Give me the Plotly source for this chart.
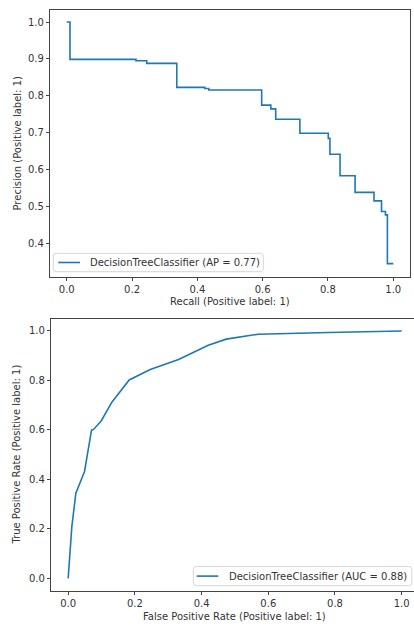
import plotly.graph_objects as go

# Precision-Recall curve (step, steps-post)
recall = [0.0, 0.010, 0.212, 0.245, 0.337, 0.423, 0.435, 0.597, 0.625, 0.640,
          0.714, 0.801, 0.806, 0.837, 0.883, 0.941, 0.964, 0.976, 0.982, 1.0]
precision = [1.0, 0.899, 0.895, 0.888, 0.823, 0.820, 0.816, 0.775, 0.765, 0.737,
             0.699, 0.685, 0.642, 0.584, 0.539, 0.516, 0.487, 0.478, 0.346, 0.346]

# ROC curve
fpr = [0.0, 0.011, 0.023, 0.049, 0.070, 0.076, 0.099, 0.131, 0.183, 0.246,
       0.331, 0.420, 0.474, 0.570, 0.780, 1.0]
tpr = [0.0, 0.209, 0.344, 0.432, 0.599, 0.602, 0.636, 0.712, 0.802, 0.844,
       0.885, 0.942, 0.967, 0.987, 0.994, 1.0]

pr_label = "DecisionTreeClassifier (AP = 0.77)"
roc_label = "DecisionTreeClassifier (AUC = 0.88)"

top_xticks = [0.0, 0.2, 0.4, 0.6, 0.8, 1.0]
top_yticks = [0.4, 0.5, 0.6, 0.7, 0.8, 0.9, 1.0]
bot_ticks = [0.0, 0.2, 0.4, 0.6, 0.8, 1.0]

W, H = 414, 626
BLUE = "#1f77b4"
TXT = "#333333"
FONT = "DejaVu Sans"
LW = 1.6

fig = go.Figure()
fig.add_trace(go.Scatter(x=recall, y=precision, mode="lines",
                         line=dict(color=BLUE, width=LW, shape="hv"),
                         name=pr_label, xaxis="x", yaxis="y", showlegend=False))
fig.add_trace(go.Scatter(x=fpr, y=tpr, mode="lines",
                         line=dict(color=BLUE, width=LW),
                         name=roc_label, xaxis="x2", yaxis="y2", showlegend=False))


def ax(**kw):
    d = dict(showgrid=False, zeroline=False, showline=True, linecolor="#444444",
             linewidth=1, ticks="outside", ticklen=3.5, tickwidth=0.8,
             tickcolor="#444444", tickfont=dict(family=FONT, size=10, color=TXT),
             tickformat=".1f", automargin=False, fixedrange=True)
    d.update(kw)
    return d


def px_x(p):
    return p / W


def px_y(p):
    return (H - p) / H


fig.update_layout(
    width=W, height=H,
    margin=dict(l=0, r=0, t=0, b=0),
    paper_bgcolor="white", plot_bgcolor="white",
    font=dict(family=FONT, size=10, color=TXT),
    template="none",
    showlegend=False,
    xaxis=ax(domain=[px_x(50.4), px_x(409.6)], range=[-0.05, 1.05],
             tickvals=top_xticks, mirror=True, anchor="y"),
    yaxis=ax(domain=[px_y(276.5), px_y(9.9)], range=[0.3112, 1.0328],
             tickvals=top_yticks, mirror=True, anchor="x"),
    xaxis2=ax(domain=[px_x(51.3), 1.0], range=[-0.0506, 1.0369],
              tickvals=bot_ticks, mirror=True, anchor="y2"),
    yaxis2=ax(domain=[px_y(590.7), px_y(318.6)], range=[-0.05, 1.05],
              tickvals=bot_ticks, mirror=False, anchor="x2"),
)

titles = [
    ("Recall (Positive label: 1)", 229.5, 301.5, 0),
    ("Precision (Positive label: 1)", 17.3, 143.2, -90),
    ("False Positive Rate (Positive label: 1)", 234.8, 616.7, 0),
    ("True Positive Rate (Positive label: 1)", 17.0, 454.6, -90),
]
for text, x, y, ang in titles:
    fig.add_annotation(text=text, x=px_x(x), y=px_y(y), xref="paper", yref="paper",
                       xanchor="center", yanchor="middle", showarrow=False,
                       textangle=ang, font=dict(family=FONT, size=10, color=TXT))


def rounded_box(x0, y0, x1, y1, r=3.0):
    # pixel box -> paper-coordinate rounded rectangle path
    X = lambda v: px_x(v)
    Y = lambda v: px_y(v)
    return (f"M {X(x0 + r)},{Y(y0)} L {X(x1 - r)},{Y(y0)} "
            f"Q {X(x1)},{Y(y0)} {X(x1)},{Y(y0 + r)} L {X(x1)},{Y(y1 - r)} "
            f"Q {X(x1)},{Y(y1)} {X(x1 - r)},{Y(y1)} L {X(x0 + r)},{Y(y1)} "
            f"Q {X(x0)},{Y(y1)} {X(x0)},{Y(y1 - r)} L {X(x0)},{Y(y0 + r)} "
            f"Q {X(x0)},{Y(y0)} {X(x0 + r)},{Y(y0)} Z")


# legends (box, handle, text) drawn like matplotlib's
legends = [
    (pr_label, (53.3, 253.3, 263.3, 271.7), (58.3, 80.0), 262.5, 87.7),
    (roc_label, (193.3, 566.5, 411.7, 585.7), (196.7, 218.3), 576.1, 226.7),
]
for text, (bx0, by0, bx1, by1), (hx0, hx1), yc, tx in legends:
    fig.add_shape(type="path", path=rounded_box(bx0, by0, bx1, by1),
                  xref="paper", yref="paper",
                  fillcolor="rgba(255,255,255,0.8)",
                  line=dict(color="#d6d6d6", width=1))
    fig.add_shape(type="line", xref="paper", yref="paper",
                  x0=px_x(hx0), x1=px_x(hx1), y0=px_y(yc), y1=px_y(yc),
                  line=dict(color=BLUE, width=LW))
    fig.add_annotation(text=text, x=px_x(tx), y=px_y(yc), xref="paper", yref="paper",
                       xanchor="left", yanchor="middle", showarrow=False,
                       font=dict(family=FONT, size=10, color=TXT))

fig.write_html("out.html", config={"displayModeBar": False})
